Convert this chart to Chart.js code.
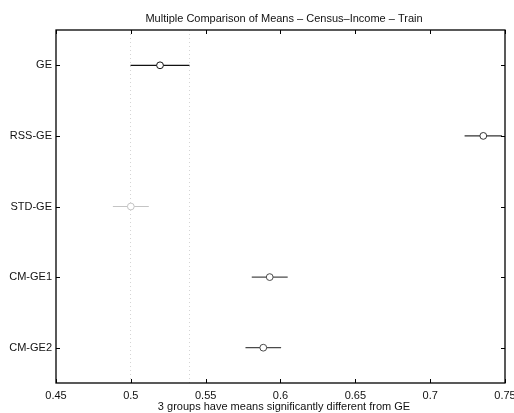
<!DOCTYPE html>
<html>
<head>
<meta charset="utf-8">
<script src="https://cdn.jsdelivr.net/npm/chart.js@4/dist/chart.umd.min.js"></script>
<style>
  html, body { margin: 0; padding: 0; background: #fff; }
  #wrap { width: 514px; height: 413px; }
</style>
</head>
<body>
<div id="wrap"><canvas id="c" width="514" height="413"></canvas></div>
<script>
// Group names (top to bottom), estimated means and half-widths of the comparison intervals
const groups = ['GE', 'RSS-GE', 'STD-GE', 'CM-GE1', 'CM-GE2'];
const means = [0.5195, 0.7355, 0.5000, 0.5928, 0.5885];
const halfWidths = [0.0197, 0.0125, 0.0120, 0.0120, 0.0119];
const xTickValues = [0.45, 0.5, 0.55, 0.6, 0.65, 0.7, 0.75];
const xTickLabels = ['0.45', '0.5', '0.55', '0.6', '0.65', '0.7', '0.75'];
const titleText = 'Multiple Comparison of Means \u2013 Census\u2013Income \u2013 Train';
const xTitleText = '3 groups have means significantly different from GE';

// Stroke colours per group: control group black, significant groups dark, non-significant light grey
const groupColors = ['#111111', '#333333', '#c4c4c4', '#4a4a4a', '#4a4a4a'];

const FONT = "'Liberation Sans', Arial, Helvetica, sans-serif";
Chart.defaults.font.family = FONT;
Chart.defaults.font.size = 11;
Chart.defaults.color = '#111';

const datasets = [];

// Interval limits of the control group, shown as dotted reference lines
const refLo = means[0] - halfWidths[0];
const refHi = means[0] + halfWidths[0];
[refLo, refHi].forEach(v => {
  datasets.push({
    type: 'line',
    data: [{ x: v, y: 0.5 }, { x: v, y: groups.length + 0.5 }],
    borderColor: '#d4d4d4',
    borderWidth: 1,
    borderDash: [1, 3],
    pointRadius: 0,
    showLine: true,
    order: 10
  });
});

// Interval bars
groups.forEach((g, i) => {
  datasets.push({
    type: 'line',
    label: g,
    data: [{ x: means[i] - halfWidths[i], y: i + 1 }, { x: means[i] + halfWidths[i], y: i + 1 }],
    borderColor: groupColors[i],
    borderWidth: 1.2,
    pointRadius: 0,
    showLine: true,
    order: 5
  });
});

// Mean markers (open circles)
datasets.push({
  type: 'scatter',
  data: means.map((m, i) => ({ x: m, y: i + 1 })),
  pointStyle: 'circle',
  pointRadius: 3.4,
  pointBorderWidth: 1,
  pointBorderColor: groupColors,
  pointBackgroundColor: '#ffffff',
  order: 1
});

// Box around the plot area with inward tick marks on all four sides, plus the titles
const boxTicks = {
  id: 'boxTicks',
  afterDatasetsDraw(chart) {
    const { ctx, chartArea: a, scales } = chart;
    const t = 4;
    ctx.save();
    ctx.strokeStyle = '#000';
    ctx.lineWidth = 1.3;
    ctx.strokeRect(a.left, a.top, a.right - a.left, a.bottom - a.top);
    ctx.lineWidth = 1;
    ctx.beginPath();
    xTickValues.forEach(v => {
      const x = Math.round(scales.x.getPixelForValue(v)) + 0.5;
      ctx.moveTo(x, a.bottom); ctx.lineTo(x, a.bottom - t);
      ctx.moveTo(x, a.top); ctx.lineTo(x, a.top + t);
    });
    groups.forEach((g, i) => {
      const y = Math.round(scales.y.getPixelForValue(i + 1)) + 0.5;
      ctx.moveTo(a.left, y); ctx.lineTo(a.left + t, y);
      ctx.moveTo(a.right, y); ctx.lineTo(a.right - t, y);
    });
    ctx.stroke();

    const cx = (a.left + a.right) / 2 + 3.5;
    ctx.fillStyle = '#111';
    ctx.font = '11px ' + FONT;
    ctx.textAlign = 'center';
    ctx.textBaseline = 'middle';
    ctx.fillText(titleText, cx, a.top - 11);
    ctx.fillText(xTitleText, cx, a.bottom + 24);
    ctx.restore();
  }
};

new Chart(document.getElementById('c'), {
  data: { datasets },
  options: {
    responsive: false,
    animation: false,
    layout: { padding: { left: 0, right: 9, top: 30, bottom: 0 } },
    plugins: {
      legend: { display: false },
      tooltip: { enabled: false },
      title: { display: false }
    },
    scales: {
      x: {
        type: 'linear',
        min: 0.45,
        max: 0.75,
        afterBuildTicks(scale) { scale.ticks = xTickValues.map(v => ({ value: v })); },
        afterFit(scale) { scale.height = 30; scale.paddingLeft = 0; scale.paddingRight = 0; },
        ticks: {
          padding: 6,
          color: '#111',
          callback(v) { const k = xTickValues.findIndex(t => Math.abs(t - v) < 1e-9); return k >= 0 ? xTickLabels[k] : ''; }
        },
        grid: { display: false, drawTicks: false },
        border: { display: false }
      },
      y: {
        type: 'linear',
        min: 0.5,
        max: groups.length + 0.5,
        reverse: true,
        afterBuildTicks(scale) { scale.ticks = groups.map((g, i) => ({ value: i + 1 })); },
        afterFit(scale) { scale.width = 56; scale.paddingTop = 0; scale.paddingBottom = 0; },
        ticks: {
          padding: 4,
          color: '#111',
          callback(v) { return groups[Math.round(v) - 1] || ''; }
        },
        grid: { display: false, drawTicks: false },
        border: { display: false }
      }
    }
  },
  plugins: [boxTicks]
});
</script>
</body>
</html>
